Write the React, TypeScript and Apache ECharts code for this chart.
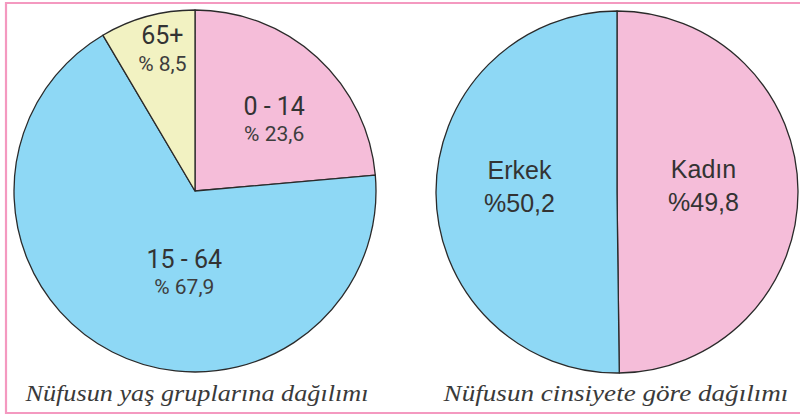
import React, { useEffect, useRef } from "react";
import * as echarts from "echarts";

const ageGroups = ["0 - 14", "15 - 64", "65+"];
const agePercents = [23.6, 67.9, 8.5];
const ageColors = ["#f5bdd9", "#8ed8f5", "#f2f2c2"];

const genderGroups = ["Kadın", "Erkek"];
const genderPercents = [49.8, 50.2];
const genderColors = ["#f5bdd9", "#8ed8f5"];

const captionAge = "Nüfusun yaş gruplarına dağılımı";
const captionGender = "Nüfusun cinsiyete göre dağılımı";

// label nudges (pixels) relative to the default inside-label position
const ageNudge = [
  [16, -3],
  [32, -2],
  [-8, -52],
];
const genderNudge = [
  [-7, -6],
  [-4, -6],
];

const fmt = (v: number) => v.toFixed(1).replace(".", ",");

export default function App() {
  const ref = useRef<HTMLDivElement>(null);
  useEffect(() => {
    if (!ref.current) return;
    const chart = echarts.init(ref.current, undefined, { renderer: "svg" });
    const border = { color: "#f499c0", width: 2.2 };
    const captionStyle = {
      fontFamily: "Liberation Serif",
      fontStyle: "italic",
      fontSize: 23,
      fill: "#3a3a3a",
      align: "center",
      verticalAlign: "middle",
    };
    chart.setOption({
      animation: false,
      backgroundColor: "#ffffff",
      graphic: [
        { type: "line", shape: { x1: 6, y1: 2, x2: 6, y2: 414 }, style: { stroke: border.color, lineWidth: border.width } },
        { type: "line", shape: { x1: 5, y1: 3, x2: 800, y2: 3 }, style: { stroke: border.color, lineWidth: border.width } },
        { type: "line", shape: { x1: 5, y1: 413, x2: 800, y2: 413 }, style: { stroke: border.color, lineWidth: border.width } },
        {
          type: "text",
          x: 197,
          y: 393,
          scaleX: 1.14,
          style: { ...captionStyle, text: captionAge },
        },
        {
          type: "text",
          x: 616,
          y: 393,
          scaleX: 1.18,
          style: { ...captionStyle, text: captionGender },
        },
      ],
      series: [
        {
          type: "pie",
          center: [195, 191],
          radius: 181,
          startAngle: 90,
          clockwise: true,
          silent: true,
          avoidLabelOverlap: false,
          itemStyle: { borderColor: "#2a2a2a", borderWidth: 1.3 },
          label: {
            show: true,
            position: "inside",
            fontFamily: "Roboto",
            formatter: (p: any) => `{a|${p.name}}\n{b|% ${fmt(p.value)}}`,
            rich: {
              a: { fontFamily: "Roboto", fontSize: 25, color: "#333333", lineHeight: 30 },
              b: { fontFamily: "Roboto", fontSize: 21, color: "#3d3d3d", lineHeight: 26 },
            },
          },
          labelLayout: (p: any) => ({ dx: ageNudge[p.dataIndex][0], dy: ageNudge[p.dataIndex][1] }),
          data: ageGroups.map((n, i) => ({
            name: n,
            value: agePercents[i],
            itemStyle: { color: ageColors[i] },
          })),
        },
        {
          type: "pie",
          center: [617, 192],
          radius: 181,
          startAngle: 90,
          clockwise: true,
          silent: true,
          avoidLabelOverlap: false,
          itemStyle: { borderColor: "#2a2a2a", borderWidth: 1.3 },
          label: {
            show: true,
            position: "inside",
            fontFamily: "Liberation Sans",
            formatter: (p: any) => `{a|${p.name}}\n{a|%${fmt(p.value)}}`,
            rich: {
              a: { fontFamily: "Liberation Sans", fontSize: 25, color: "#333333", lineHeight: 33 },
            },
          },
          labelLayout: (p: any) => ({ dx: genderNudge[p.dataIndex][0], dy: genderNudge[p.dataIndex][1] }),
          data: genderGroups.map((n, i) => ({
            name: n,
            value: genderPercents[i],
            itemStyle: { color: genderColors[i] },
          })),
        },
      ],
    });
    return () => chart.dispose();
  }, []);
  return (
    <div
      ref={ref}
      style={{ position: "fixed", left: 0, top: 0, width: 800, height: 417 }}
    />
  );
}
